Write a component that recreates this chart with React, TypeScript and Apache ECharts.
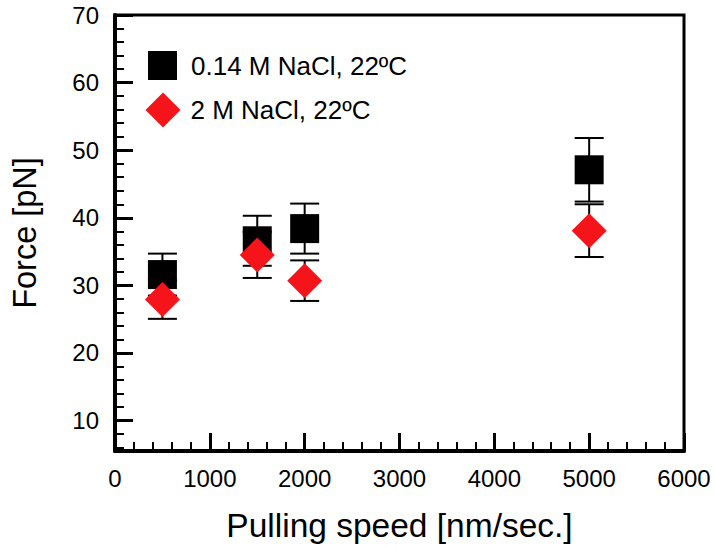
import React, { useEffect, useRef } from "react";
import * as echarts from "echarts";

const speeds = [500, 1500, 2000, 5000];
const force014 = [31.6, 36.6, 38.4, 47.1];
const err014 = [3.1, 3.7, 3.7, 4.7];
const force2 = [27.9, 34.5, 30.7, 38.1];
const err2 = [2.85, 3.4, 3.0, 3.9];
const seriesNames = ["0.14 M NaCl, 22ºC", "2 M NaCl, 22ºC"];

const FONT = "'Liberation Sans', Arial, Helvetica, sans-serif";

function errRender(params: any, api: any) {
  const x = api.value(0);
  const lo = api.coord([x, api.value(1)]);
  const hi = api.coord([x, api.value(2)]);
  const hw = 14.5;
  const style = { stroke: "#000", lineWidth: 2 };
  return {
    type: "group",
    children: [
      { type: "line", shape: { x1: lo[0], y1: lo[1], x2: hi[0], y2: hi[1] }, style },
      { type: "line", shape: { x1: lo[0] - hw, y1: lo[1], x2: lo[0] + hw, y2: lo[1] }, style },
      { type: "line", shape: { x1: hi[0] - hw, y1: hi[1], x2: hi[0] + hw, y2: hi[1] }, style },
    ],
  };
}

export default function App() {
  const ref = useRef<HTMLDivElement>(null);
  useEffect(() => {
    if (!ref.current) return;
    const chart = echarts.init(ref.current, null, { renderer: "svg" });
    const black = speeds.map((s, i) => [s, force014[i]]);
    const red = speeds.map((s, i) => [s, force2[i]]);
    const blackErr = speeds.map((s, i) => [s, force014[i] - err014[i], force014[i] + err014[i]]);
    const redErr = speeds.map((s, i) => [s, force2[i] - err2[i], force2[i] + err2[i]]);
    const axisCommon = {
      axisLine: { show: true, lineStyle: { color: "#000", width: 4 } },
      axisTick: { show: true, inside: true, length: 18, lineStyle: { color: "#000", width: 3 } },
      minorTick: { show: true, splitNumber: 5, length: 9, lineStyle: { color: "#000", width: 2 } },
      splitLine: { show: false },
      nameLocation: "middle" as const,
    };
    chart.setOption({
      animation: false,
      backgroundColor: "#fff",
      textStyle: { fontFamily: FONT },
      grid: {
        left: 114,
        right: 30,
        top: 15,
        bottom: 96,
        show: true,
        borderColor: "#000",
        borderWidth: 3,
      },
      legend: [
        {
          data: [{ name: seriesNames[0], icon: "rect" }],
          left: 143,
          top: 46,
          itemWidth: 29,
          itemHeight: 29,
          selectedMode: false,
          textStyle: { fontFamily: FONT, fontSize: 26, color: "#000", padding: [0, 0, 0, 9] },
        },
        {
          data: [{ name: seriesNames[1], icon: "diamond" }],
          left: 140.5,
          top: 87.5,
          itemWidth: 35,
          itemHeight: 35,
          selectedMode: false,
          textStyle: { fontFamily: FONT, fontSize: 26, color: "#000", padding: [0, 0, 0, 5] },
        },
      ],
      xAxis: {
        type: "value",
        min: 0,
        max: 6000,
        interval: 1000,
        ...axisCommon,
        name: "Pulling speed [nm/sec.]",
        nameGap: 57,
        nameTextStyle: { fontFamily: FONT, fontSize: 33.5, color: "#000" },
        axisLabel: {
          color: "#000",
          fontSize: 24,
          fontFamily: FONT,
          margin: 15,
          formatter: (v: number) => String(v),
        },
      },
      yAxis: {
        type: "value",
        min: 5.5,
        max: 70,
        splitNumber: 6,
        ...axisCommon,
        name: "Force [pN]",
        nameGap: 74,
        nameTextStyle: { fontFamily: FONT, fontSize: 32.5, color: "#000" },
        axisLabel: {
          color: "#000",
          fontSize: 24,
          fontFamily: FONT,
          margin: 16,
          showMinLabel: false,
          formatter: (v: number) => (v % 10 === 0 ? String(v) : ""),
        },
      },
      series: [
        {
          type: "custom",
          name: "err014",
          renderItem: errRender,
          data: blackErr,
          z: 1,
          encode: { x: 0, y: [1, 2] },
        },
        {
          type: "scatter",
          name: seriesNames[0],
          symbol: "rect",
          symbolSize: 29,
          itemStyle: { color: "#000", opacity: 1 },
          data: black,
          z: 2,
        },
        {
          type: "custom",
          name: "err2",
          renderItem: errRender,
          data: redErr,
          z: 3,
          encode: { x: 0, y: [1, 2] },
        },
        {
          type: "scatter",
          name: seriesNames[1],
          symbol: "diamond",
          symbolSize: 35,
          itemStyle: { color: "#f5141a", opacity: 1 },
          data: red,
          z: 4,
        },
      ],
    });
    return () => chart.dispose();
  }, []);
  return (
    <div
      ref={ref}
      style={{ position: "absolute", left: 0, top: 0, width: 714, height: 547 }}
    />
  );
}
